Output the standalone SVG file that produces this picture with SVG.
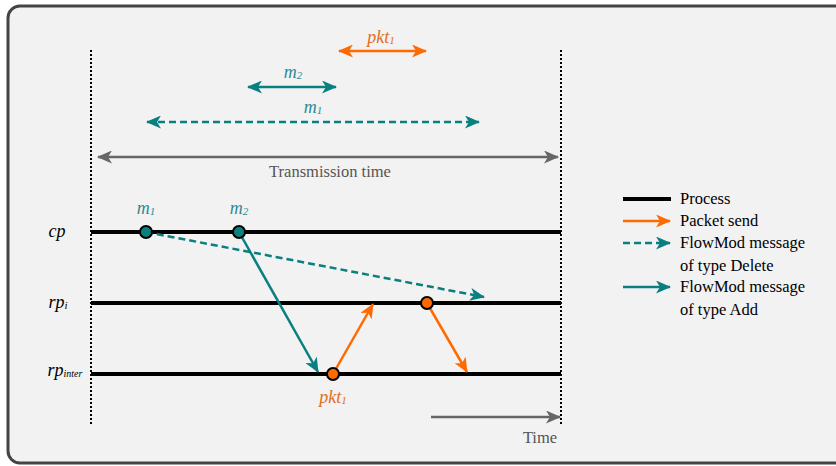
<svg xmlns="http://www.w3.org/2000/svg" width="836" height="466" viewBox="0 0 836 466">
  <defs>
    <style>
      .lbl { font-family: "Liberation Serif", "Times New Roman", serif; font-size: 16.5px; }
      .it { font-style: italic; font-size: 18px; }
      .proc { stroke: #000; stroke-width: 4; fill: none; }
      .bound { stroke: #000; stroke-width: 2; stroke-dasharray: 2 2; fill: none; }
      .teal { stroke: #0a7f7f; stroke-width: 2.5; fill: none; }
      .dash { stroke-dasharray: 7 4; }
      .orange { stroke: #ff6a00; stroke-width: 2.5; fill: none; }
      .grey { stroke: #666; stroke-width: 2.5; fill: none; }
    </style>
    <marker id="ahTeal" markerUnits="userSpaceOnUse" viewBox="0 0 15 13" refX="14" refY="6.5" markerWidth="15" markerHeight="13" orient="auto-start-reverse">
      <path d="M0,0 L15,6.5 L0,13 L4,6.5 Z" fill="#0a7f7f"/>
    </marker>
    <marker id="ahOrange" markerUnits="userSpaceOnUse" viewBox="0 0 15 13" refX="14" refY="6.5" markerWidth="15" markerHeight="13" orient="auto-start-reverse">
      <path d="M0,0 L15,6.5 L0,13 L4,6.5 Z" fill="#ff6a00"/>
    </marker>
    <marker id="ahGrey" markerUnits="userSpaceOnUse" viewBox="0 0 15 13" refX="14" refY="6.5" markerWidth="15" markerHeight="13" orient="auto-start-reverse">
      <path d="M0,0 L15,6.5 L0,13 L4,6.5 Z" fill="#666"/>
    </marker>
  </defs>

  <!-- frame -->
  <rect x="8" y="6" width="900" height="457" rx="12" fill="#f2f2f2" stroke="#444" stroke-width="3"/>

  <!-- time boundaries -->
  <g id="bounds">
    <line class="bound" x1="91" y1="50" x2="91" y2="426"/>
    <line class="bound" x1="561" y1="50" x2="561" y2="426"/>
  </g>

  <!-- duration spans -->
  <g id="spans">
    <line class="orange" x1="339" y1="51" x2="426" y2="51" marker-start="url(#ahOrange)" marker-end="url(#ahOrange)"/>
    <text class="lbl it" x="381" y="43" text-anchor="middle" fill="#e07020">pkt<tspan font-size="11" dy="1">1</tspan></text>
    <line class="teal" x1="248" y1="87" x2="336" y2="87" marker-start="url(#ahTeal)" marker-end="url(#ahTeal)"/>
    <text class="lbl it" x="293" y="78" text-anchor="middle" fill="#2a8a96">m<tspan font-size="11" dy="1">2</tspan></text>
    <line class="teal dash" x1="147" y1="122" x2="479" y2="122" marker-start="url(#ahTeal)" marker-end="url(#ahTeal)"/>
    <text class="lbl it" x="313" y="113" text-anchor="middle" fill="#2a8a96">m<tspan font-size="11" dy="1">1</tspan></text>
    <line class="grey" x1="98" y1="157" x2="558" y2="157" marker-start="url(#ahGrey)" marker-end="url(#ahGrey)"/>
    <text class="lbl" x="330" y="177" text-anchor="middle" fill="#555">Transmission time</text>
  </g>

  <!-- processes -->
  <g id="cp">
    <line class="proc" x1="91" y1="232" x2="561" y2="232"/>
    <text class="lbl it" x="57" y="237" text-anchor="middle" font-size="19">cp</text>
  </g>
  <g id="rp_i">
    <line class="proc" x1="91" y1="303" x2="561" y2="303"/>
    <text class="lbl it" x="58" y="308" text-anchor="middle" font-size="19">rp<tspan font-size="11" dy="1">i</tspan></text>
  </g>
  <g id="rp_inter">
    <line class="proc" x1="91" y1="374" x2="561" y2="374"/>
    <text class="lbl it" x="65" y="376" text-anchor="middle" font-size="19">rp<tspan font-size="10" dy="1">inter</tspan></text>
  </g>

  <!-- messages -->
  <g id="connectors">
    <line class="teal dash" x1="146" y1="232" x2="484" y2="297" marker-end="url(#ahTeal)"/>
    <line class="teal" x1="239" y1="232" x2="318" y2="372" marker-end="url(#ahTeal)"/>
    <line class="orange" x1="333" y1="374" x2="373" y2="304" marker-end="url(#ahOrange)"/>
    <line class="orange" x1="427" y1="303" x2="467" y2="372" marker-end="url(#ahOrange)"/>
  </g>

  <!-- events -->
  <g id="m1">
    <circle cx="146" cy="232" r="6" fill="#0a7f7f" stroke="#000" stroke-width="2"/>
    <text class="lbl it" x="146" y="214" text-anchor="middle" fill="#2a8a96">m<tspan font-size="11" dy="1">1</tspan></text>
  </g>
  <g id="m2">
    <circle cx="239" cy="232" r="6" fill="#0a7f7f" stroke="#000" stroke-width="2"/>
    <text class="lbl it" x="239" y="214" text-anchor="middle" fill="#2a8a96">m<tspan font-size="11" dy="1">2</tspan></text>
  </g>
  <g id="pkt1">
    <circle cx="333" cy="374" r="6" fill="#ff6a00" stroke="#000" stroke-width="2"/>
    <text class="lbl it" x="333" y="403" text-anchor="middle" fill="#e07020">pkt<tspan font-size="11" dy="1">1</tspan></text>
  </g>
  <g id="fwd">
    <circle cx="427" cy="303" r="6" fill="#ff6a00" stroke="#000" stroke-width="2"/>
  </g>

  <!-- time axis -->
  <g id="time">
    <line class="grey" x1="431" y1="417" x2="560" y2="417" marker-end="url(#ahGrey)"/>
    <text class="lbl" x="540" y="443" text-anchor="middle" fill="#555">Time</text>
  </g>

  <!-- legend -->
  <g id="legend">
    <line class="proc" x1="623" y1="199" x2="671" y2="199"/>
    <text class="lbl" x="680" y="204">Process</text>
    <line class="orange" x1="623" y1="221" x2="670" y2="221" marker-end="url(#ahOrange)"/>
    <text class="lbl" x="680" y="226">Packet send</text>
    <line class="teal dash" x1="623" y1="243" x2="670" y2="243" marker-end="url(#ahTeal)"/>
    <text class="lbl" x="680" y="248">FlowMod message</text>
    <text class="lbl" x="680" y="271">of type Delete</text>
    <line class="teal" x1="623" y1="287" x2="670" y2="287" marker-end="url(#ahTeal)"/>
    <text class="lbl" x="680" y="292">FlowMod message</text>
    <text class="lbl" x="680" y="315">of type Add</text>
  </g>
</svg>
